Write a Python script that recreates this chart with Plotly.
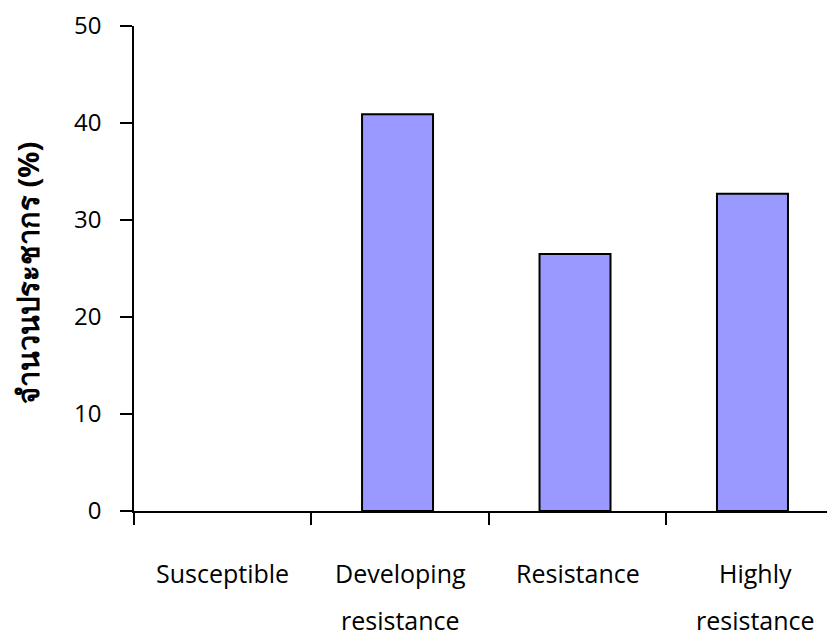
import plotly.graph_objects as go

categories = ["Susceptible", "Developing<br>resistance", "Resistance", "Highly<br>resistance"]
values = [0, 40.9, 26.5, 32.7]
y_ticks = [0, 10, 20, 30, 40, 50]
y_title = "จำนวนประชากร (%)"

xpos = list(range(len(categories)))

fig = go.Figure()
fig.add_trace(go.Bar(
    x=xpos, y=values, width=0.4, offset=-0.215,
    marker=dict(color="#9999FF",
                line=dict(color="black", width=[0 if v == 0 else 2 for v in values])),
    hoverinfo="skip",
))

FONT = "Open Sans, sans-serif"
annotations = []
for i, lab in enumerate(categories):
    parts = lab.split("<br>")
    for j, p in enumerate(parts):
        annotations.append(dict(
            x=i, y=-0.128 - j * 0.097, xref="x", yref="paper",
            text=p, showarrow=False, xanchor="center", yanchor="middle",
            font=dict(family=FONT, size=25, color="black", weight=500),
        ))
annotations.append(dict(
    x=-0.151, y=0.491, xref="paper", yref="paper", text="<b>" + y_title + "</b>",
    textangle=-90, showarrow=False, xanchor="center", yanchor="middle",
    font=dict(family="Noto Sans, sans-serif", size=29, color="black"),
))

fig.update_layout(
    width=827, height=624,
    margin=dict(l=126, r=0, t=16, b=121),
    plot_bgcolor="white", paper_bgcolor="white",
    showlegend=False,
    annotations=annotations,
    xaxis=dict(
        range=[-0.5, 3.45], showgrid=False, zeroline=False,
        showline=True, linecolor="black", linewidth=1.5,
        tickmode="array", tickvals=[-0.5, 0.5, 1.5, 2.5, 3.5],
        ticktext=["", "", "", "", ""],
        ticks="outside", ticklen=12, tickwidth=1.5, tickcolor="black",
    ),
    yaxis=dict(
        range=[0, 50], showgrid=False, zeroline=False,
        showline=True, linecolor="black", linewidth=1.5,
        tickmode="array", tickvals=y_ticks,
        ticks="outside", ticklen=12, tickwidth=1.5, tickcolor="black",
        tickfont=dict(family=FONT, size=24, color="black", weight=500),
        ticklabelstandoff=14, ticklabeloverflow="allow",
    ),
)

fig.write_html("out.html")
